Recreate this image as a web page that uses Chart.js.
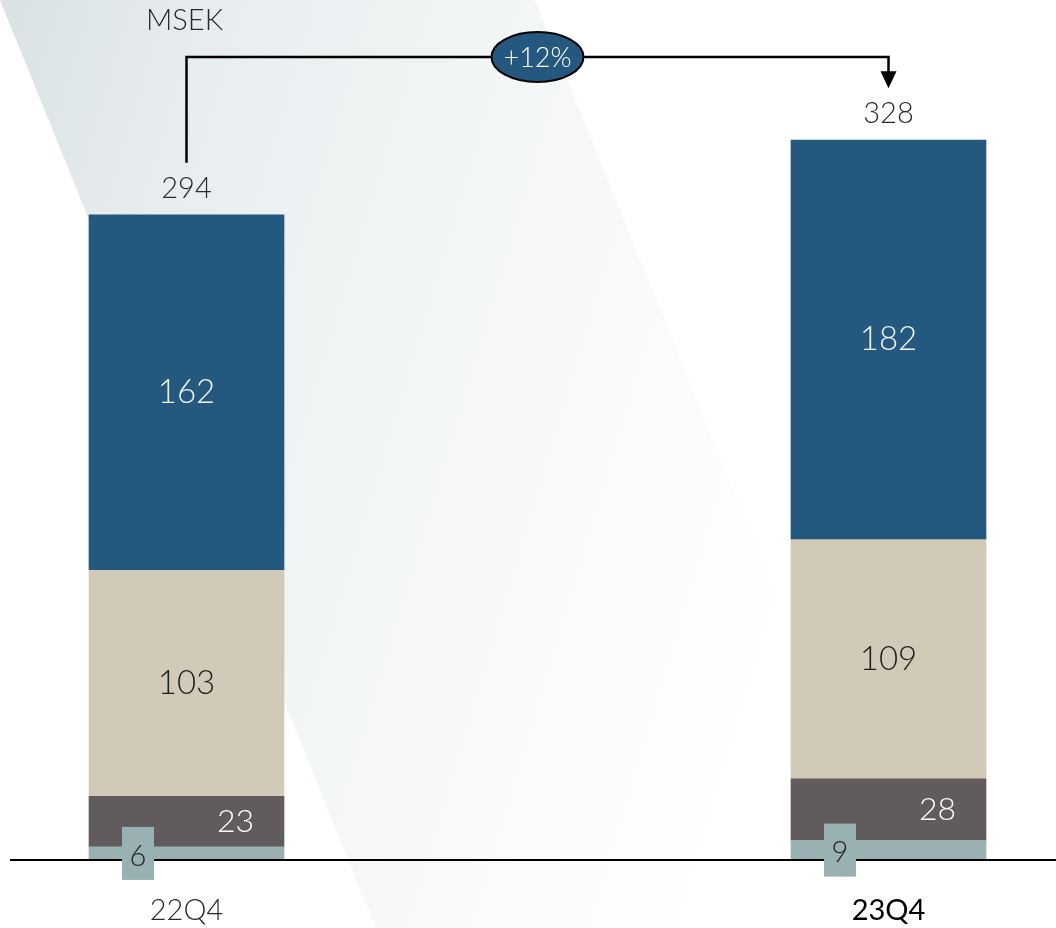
<!DOCTYPE html>
<html>
<head>
<meta charset="utf-8">
<title>MSEK 22Q4 vs 23Q4</title>
<script src="https://cdn.jsdelivr.net/npm/chart.js@4.4.1/dist/chart.umd.min.js"></script>
<style>
    html, body { margin: 0; padding: 0; background: #fff; }
    #wrap { width: 1056px; height: 928px; position: relative; }
</style>
</head>
<body>
<div id="wrap"><canvas id="chart" width="1056" height="928"></canvas></div>
<script>
const quarters = ['22Q4', '23Q4'];
const smallSeg = [6, 9];
const darkSeg = [23, 28];
const beigeSeg = [103, 109];
const blueSeg = [162, 182];
const growthLabel = '+12%';
const unitLabel = 'MSEK';

const FONT = 'Lato, "Open Sans", sans-serif';
const COLORS = {
    small: '#99b1b3',
    dark:  '#625b5d',
    beige: '#d2cab9',
    blue:  '#24587e',
};

// diagonal light band behind the bars
const bandBackground = {
    id: 'bandBackground',
    beforeDraw(chart) {
        const { ctx, width, height } = chart;
        ctx.save();
        ctx.fillStyle = '#fff';
        ctx.fillRect(0, 0, width, height);
        const slope = 0.405;
        const grad = ctx.createLinearGradient(0, 0, 900, 270);
        grad.addColorStop(0, '#d9e1e4');
        grad.addColorStop(0.2, '#e6ecee');
        grad.addColorStop(0.5, '#f2f5f6');
        grad.addColorStop(0.8, '#fafbfb');
        grad.addColorStop(1, '#ffffff');
        ctx.fillStyle = grad;
        ctx.beginPath();
        ctx.moveTo(0, 0);
        ctx.lineTo(535, 0);
        ctx.lineTo(535 + slope * height, height);
        ctx.lineTo(slope * height, height);
        ctx.closePath();
        ctx.fill();
        ctx.restore();
    }
};

// segment values, totals, growth bracket, axis line and category labels
const annotations = {
    id: 'annotations',
    afterDatasetsDraw(chart) {
        const { ctx, chartArea } = chart;
        const bars = i => chart.getDatasetMeta(i).data;
        ctx.save();
        ctx.textAlign = 'center';
        ctx.textBaseline = 'middle';

        // baseline
        ctx.strokeStyle = '#000';
        ctx.lineWidth = 2;
        ctx.beginPath();
        ctx.moveTo(10, chartArea.bottom);
        ctx.lineTo(chart.width, chartArea.bottom);
        ctx.stroke();

        const mid = b => (b.y + b.base) / 2;

        // bottom segment: value in a small tab left of centre
        bars(0).forEach((b, j) => {
            const cx = b.x - 48.5, cy = mid(b);
            ctx.fillStyle = COLORS.small;
            ctx.fillRect(cx - 16, cy - 26.5, 32, 53);
            ctx.fillStyle = '#222';
            ctx.font = '300 29px ' + FONT;
            ctx.fillText(String(smallSeg[j]), cx, cy + 3);
        });
        // dark segment: value right of centre
        bars(1).forEach((b, j) => {
            ctx.fillStyle = '#fff';
            ctx.font = '300 32px ' + FONT;
            ctx.fillText(String(darkSeg[j]), b.x + 49, mid(b));
        });
        bars(2).forEach((b, j) => {
            ctx.fillStyle = '#1e1e1e';
            ctx.font = '300 33px ' + FONT;
            ctx.fillText(String(beigeSeg[j]), b.x, mid(b));
        });
        bars(3).forEach((b, j) => {
            ctx.fillStyle = '#eef2f5';
            ctx.font = '300 33px ' + FONT;
            ctx.fillText(String(blueSeg[j]), b.x, mid(b));
        });

        // totals above each bar
        const totals = quarters.map((_, j) => smallSeg[j] + darkSeg[j] + beigeSeg[j] + blueSeg[j]);
        const tops = bars(3);
        ctx.fillStyle = '#2a2a2a';
        ctx.font = '300 29px ' + FONT;
        tops.forEach((b, j) => ctx.fillText(String(totals[j]), b.x, b.y - 26));

        // unit label
        ctx.fillText(unitLabel, tops[0].x - 2, 21);

        // growth bracket
        const lineY = 57;
        const x0 = tops[0].x, x1 = tops[1].x;
        ctx.strokeStyle = '#000';
        ctx.lineWidth = 2.5;
        ctx.beginPath();
        ctx.moveTo(x0, tops[0].y - 52);
        ctx.lineTo(x0, lineY);
        ctx.lineTo(x1, lineY);
        ctx.lineTo(x1, tops[1].y - 68);
        ctx.stroke();
        ctx.fillStyle = '#000';
        ctx.beginPath();
        ctx.moveTo(x1 - 8, tops[1].y - 69);
        ctx.lineTo(x1 + 8, tops[1].y - 69);
        ctx.lineTo(x1, tops[1].y - 52);
        ctx.closePath();
        ctx.fill();

        const ex = (x0 + x1) / 2;
        ctx.fillStyle = COLORS.blue;
        ctx.beginPath();
        ctx.ellipse(ex, lineY, 46, 25, 0, 0, Math.PI * 2);
        ctx.fill();
        ctx.lineWidth = 2;
        ctx.stroke();
        ctx.fillStyle = '#fff';
        ctx.font = '300 27px ' + FONT;
        ctx.fillText(growthLabel, ex, lineY + 1);

        // category labels
        const xScale = chart.scales.x;
        quarters.forEach((q, j) => {
            const last = j === quarters.length - 1;
            ctx.fillStyle = last ? '#000' : '#2a2a2a';
            ctx.font = (last ? '400 ' : '300 ') + '29px ' + FONT;
            ctx.fillText(q, xScale.getPixelForValue(j), 911);
        });
        ctx.restore();
    }
};

const series = [
    { label: 'small', data: smallSeg, color: COLORS.small },
    { label: 'dark',  data: darkSeg,  color: COLORS.dark },
    { label: 'beige', data: beigeSeg, color: COLORS.beige },
    { label: 'blue',  data: blueSeg,  color: COLORS.blue },
];

new Chart(document.getElementById('chart').getContext('2d'), {
    type: 'bar',
    data: {
        labels: quarters,
        datasets: series.map(s => ({
            label: s.label,
            data: s.data,
            backgroundColor: s.color,
            borderWidth: 0,
            barThickness: 195,
            clip: false,
        })),
    },
    options: {
        responsive: false,
        animation: false,
        devicePixelRatio: 1,
        layout: { padding: { left: 186.5, right: 167.5, top: 26, bottom: 68 } },
        scales: {
            x: { stacked: true, display: false, offset: false },
            y: { stacked: true, display: false, min: 0, max: 380 },
        },
        plugins: {
            legend: { display: false },
            tooltip: { enabled: false },
        },
    },
    plugins: [bandBackground, annotations],
});
</script>
</body>
</html>
